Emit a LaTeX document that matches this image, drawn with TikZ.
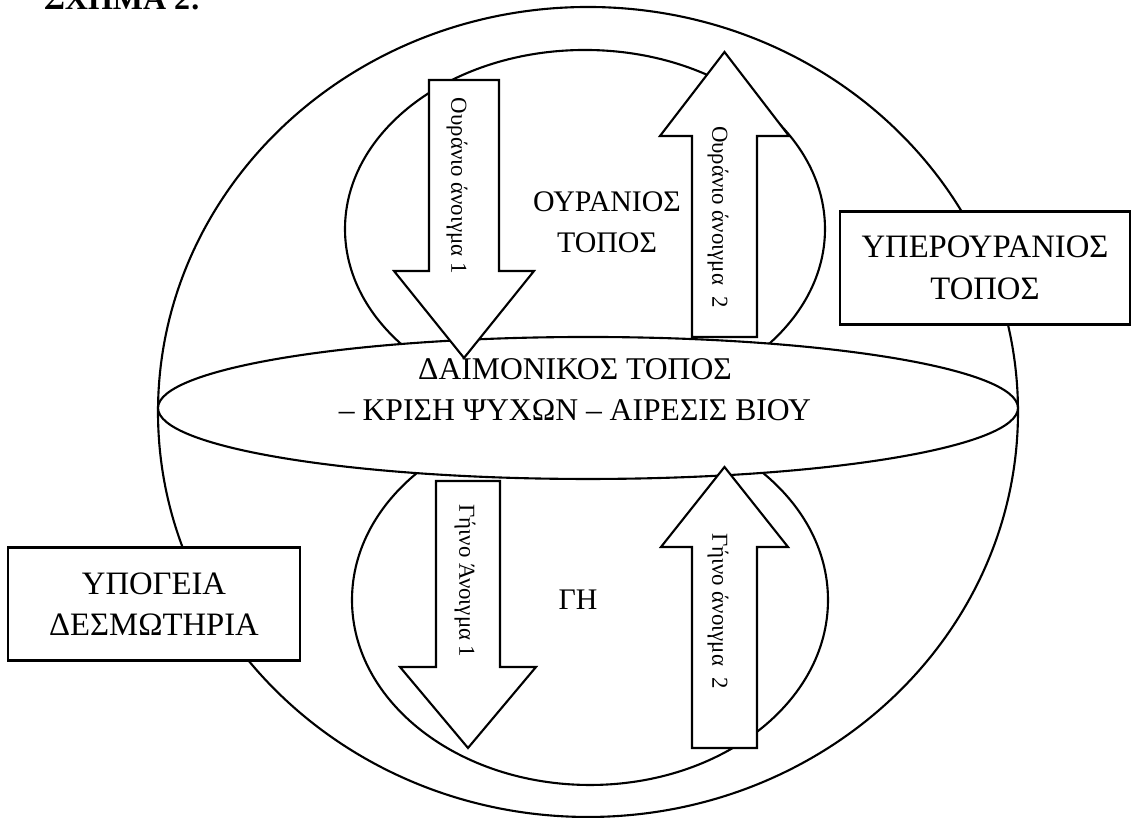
\documentclass[tikz,border=0pt]{standalone}
\usepackage{fontspec}
\setmainfont{Liberation Serif}

\begin{document}
\begin{tikzpicture}[
    line width=0.6pt,
    region/.style={draw, fill=white},
    blockarrow/.style={draw, fill=white, line join=miter},
    placetext/.style={align=center, inner sep=0pt,
                      font=\fontsize{8.5}{11.6}\selectfont},
    arrowtext/.style={rotate=-90, inner sep=0pt,
                      font=\fontsize{6.5}{8}\selectfont},
    placebox/.style={draw, fill=white, minimum width=2.9cm,
                     minimum height=1.13cm, align=center,
                     font=\fontsize{9.3}{11.8}\selectfont}
  ]
  \useasboundingbox (0,0) rectangle (11.39,8.18);

  \node[anchor=base west, inner sep=0pt,
        font=\fontsize{9.1}{11}\selectfont\bfseries] (title) at (0.43,8.08)
    {ΣΧΗΜΑ 2:};

  % spheres
  \draw (5.88,4.06) ellipse [x radius=4.30, y radius=4.05];
  \draw (5.85,5.89) ellipse [x radius=2.40, y radius=1.79];
  \draw (5.90,2.18) ellipse [x radius=2.38, y radius=1.85];
  \draw[region] (5.88,4.10) ellipse [x radius=4.30, y radius=0.71];

  % openings: centre / tail / head base / tip / shaft half / head half
  \foreach \xc/\ytail/\ybase/\ytip/\sw/\hw in {
      4.64/7.38/5.47/4.60/0.35/0.70,
      7.245/4.81/6.82/7.66/0.325/0.645,
      4.68/3.37/1.51/0.70/0.32/0.68,
      7.245/0.70/2.71/3.51/0.325/0.635} {
    \draw[blockarrow] (\xc-\sw,\ytail) -- (\xc-\sw,\ybase)
      -- (\xc-\hw,\ybase) -- (\xc,\ytip) -- (\xc+\hw,\ybase)
      -- (\xc+\sw,\ybase) -- (\xc+\sw,\ytail) -- cycle;
  }

  \node[arrowtext] (open1) at (4.57,6.32) {Ουράνιο άνοιγμα 1};
  \node[arrowtext] (open2) at (7.18,6.01) {Ουράνιο άνοιγμα~~2};
  \node[arrowtext] (open3) at (4.65,2.37) {Γήινο Άνοιγμα 1};
  \node[arrowtext] (open4) at (7.18,2.07) {Γήινο άνοιγμα~~2};

  % places
  \node[placetext] (ouranos) at (6.07,5.96) {ΟΥΡΑΝΙΟΣ\\ΤΟΠΟΣ};
  \node[placetext] (ge) at (5.78,2.18) {ΓΗ};
  \node[placetext, font=\fontsize{9}{11.6}\selectfont] (daimon) at (5.75,4.28)
    {ΔΑΙΜΟΝΙΚΟΣ ΤΟΠΟΣ\\– ΚΡΙΣΗ ΨΥΧΩΝ – ΑΙΡΕΣΙΣ ΒΙΟΥ};

  \node[placebox] (hyper) at (9.85,5.50) {ΥΠΕΡΟΥΡΑΝΙΟΣ\\ΤΟΠΟΣ};
  \node[placebox, minimum width=2.92cm] (prison) at (1.54,2.14)
    {ΥΠΟΓΕΙΑ\\ΔΕΣΜΩΤΗΡΙΑ};
\end{tikzpicture}
\end{document}
